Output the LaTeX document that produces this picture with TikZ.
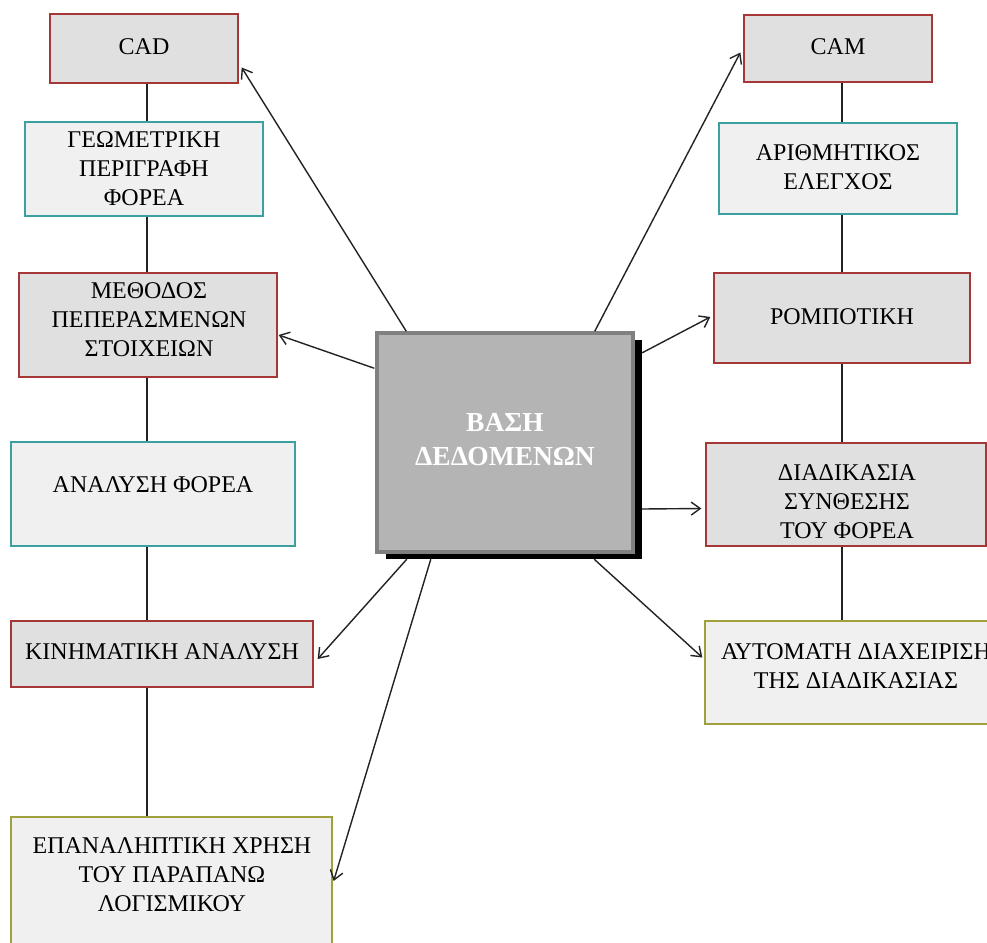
\documentclass[tikz,border=0pt]{standalone}
\usepackage{fontspec}
\setmainfont{Liberation Serif}
\usetikzlibrary{calc,arrows.meta}
\definecolor{redb}{RGB}{165,55,55}
\definecolor{tealb}{RGB}{60,160,160}
\definecolor{oliveb}{RGB}{160,160,60}
\definecolor{fillA}{RGB}{224,224,224}
\definecolor{fillB}{RGB}{240,240,240}
\definecolor{dbfill}{RGB}{180,180,180}
\definecolor{dbborder}{RGB}{128,128,128}
\definecolor{linec}{RGB}{35,35,35}
\begin{document}
\begin{tikzpicture}[x=1pt,y=-1pt,
  boxbase/.style={rectangle, inner sep=0pt, line width=1.3pt},
  redbox/.style={boxbase, draw=redb, fill=fillA},
  tealbox/.style={boxbase, draw=tealb, fill=fillB},
  olivebox/.style={boxbase, draw=oliveb, fill=fillB},
  lbl/.style={inner sep=0pt, align=center, font=\fontsize{24}{29}\selectfont, text=black},
  dblbl/.style={inner sep=0pt, align=center, font=\fontsize{27.5}{34}\selectfont\bfseries, text=white},
  conn/.style={draw=linec, line width=1.4pt},
  arr/.style={draw=linec, line width=1.4pt, -{Straight Barb[length=9pt,width=13pt]}}
]
\useasboundingbox (0,0) rectangle (987,942);
\clip (0,0) rectangle (987,942);
\fill[white] (0,0) rectangle (987,942);

% left column boxes
\node[redbox,  minimum width=188pt, minimum height=69pt]  (cad) at (144,48.5) {};
\node[tealbox, minimum width=238pt, minimum height=94pt]  (geo) at (144,169) {};
\node[redbox,  minimum width=258pt, minimum height=104pt] (fem) at (148,325) {};
\node[tealbox, minimum width=284pt, minimum height=104pt] (ana) at (153,494) {};
\node[redbox,  minimum width=302pt, minimum height=66pt]  (kin) at (162,654) {};
\node[olivebox,minimum width=321pt, minimum height=130pt] (rep) at (171.5,882) {};

% right column boxes
\node[redbox,  minimum width=188pt, minimum height=67pt]  (cam)   at (838,48.5) {};
\node[tealbox, minimum width=238pt, minimum height=91pt]  (arith) at (838,168.5) {};
\node[redbox,  minimum width=256pt, minimum height=90pt]  (rob)   at (842,318) {};
\node[redbox,  minimum width=280pt, minimum height=103pt] (diad)  at (846,494.5) {};
\node[olivebox,minimum width=302pt, minimum height=103pt] (auto)  at (856,672.5) {};

% vertical connectors
\coordinate (vl) at (147,0);
\coordinate (vr) at (842,0);
\draw[conn] (cad.south -| vl) -- (geo.north -| vl);
\draw[conn] (geo.south -| vl) -- (fem.north -| vl);
\draw[conn] (fem.south -| vl) -- (ana.north -| vl);
\draw[conn] (ana.south -| vl) -- (kin.north -| vl);
\draw[conn] (kin.south -| vl) -- (rep.north -| vl);
\draw[conn] (cam.south -| vr) -- (arith.north -| vr);
\draw[conn] (arith.south -| vr) -- (rob.north -| vr);
\draw[conn] (rob.south -| vr) -- (diad.north -| vr);
\draw[conn] (diad.south -| vr) -- (auto.north -| vr);

% central database box
\node[rectangle, fill=black, minimum width=256pt, minimum height=219pt, inner sep=0pt] (shadow) at (514,449.5) {};
\node[rectangle, fill=dbfill, draw=dbborder, line width=3.5pt, minimum width=256pt, minimum height=219pt, inner sep=0pt] (db) at (505,442.5) {};

% arrows
\draw[arr] ($(db.north west)+(31,0)$) -- ($(cad.east)+(3,19)$);
\draw[arr] ($(db.north east)+(-40,0)$) -- ($(cam.west)+(-3,4)$);
\draw[arr] ($(db.north west)+(-1,37)$) -- ($(fem.east)+(1,10)$);
\draw[arr] ($(shadow.north east)+(0,13)$) -- ($(rob.west)+(-3,-1)$);
\draw[arr] ($(shadow.east)+(0,59.5)$) -- ($(diad.west)+(-4,14)$);
\draw[arr] ($(shadow.south east)+(-48,0)$) -- ($(auto.west)+(-2,-15)$);
\draw[arr] ($(shadow.south west)+(21,0)$) -- ($(kin.east)+(4,5)$);
\draw[arr] ($(shadow.south west)+(45,0)$) -- ($(rep.east)+(1,-1)$);

% labels
\node[lbl] (tcad) at (144,47) {CAD};
\node[lbl] (tgeo) at (144,169) {ΓΕΩΜΕΤΡΙΚΗ\\ΠΕΡΙΓΡΑΦΗ\\ΦΟΡΕΑ};
\node[lbl] (tfem) at (149,320) {ΜΕΘΟΔΟΣ\\ΠΕΠΕΡΑΣΜΕΝΩΝ\\ΣΤΟΙΧΕΙΩΝ};
\node[lbl] (tana) at (153,485) {ΑΝΑΛΥΣΗ ΦΟΡΕΑ};
\node[lbl] (tkin) at (162,652) {ΚΙΝΗΜΑΤΙΚΗ ΑΝΑΛΥΣΗ};
\node[lbl] (trep) at (172,875) {ΕΠΑΝΑΛΗΠΤΙΚΗ ΧΡΗΣΗ\\ΤΟΥ ΠΑΡΑΠΑΝΩ\\ΛΟΓΙΣΜΙΚΟΥ};
\node[lbl] (tcam) at (838,47) {CAM};
\node[lbl] (tari) at (838,167) {ΑΡΙΘΜΗΤΙΚΟΣ\\ΕΛΕΓΧΟΣ};
\node[lbl] (trob) at (842,317) {ΡΟΜΠΟΤΙΚΗ};
\node[lbl] (tdia) at (847,502) {ΔΙΑΔΙΚΑΣΙΑ\\ΣΥΝΘΕΣΗΣ\\ΤΟΥ ΦΟΡΕΑ};
\node[lbl] (taut) at (856,666) {ΑΥΤΟΜΑΤΗ ΔΙΑΧΕΙΡΙΣΗ\\ΤΗΣ ΔΙΑΔΙΚΑΣΙΑΣ};
\node[dblbl] (tdb) at (505,440) {ΒΑΣΗ\\ΔΕΔΟΜΕΝΩΝ};
\end{tikzpicture}
\end{document}
